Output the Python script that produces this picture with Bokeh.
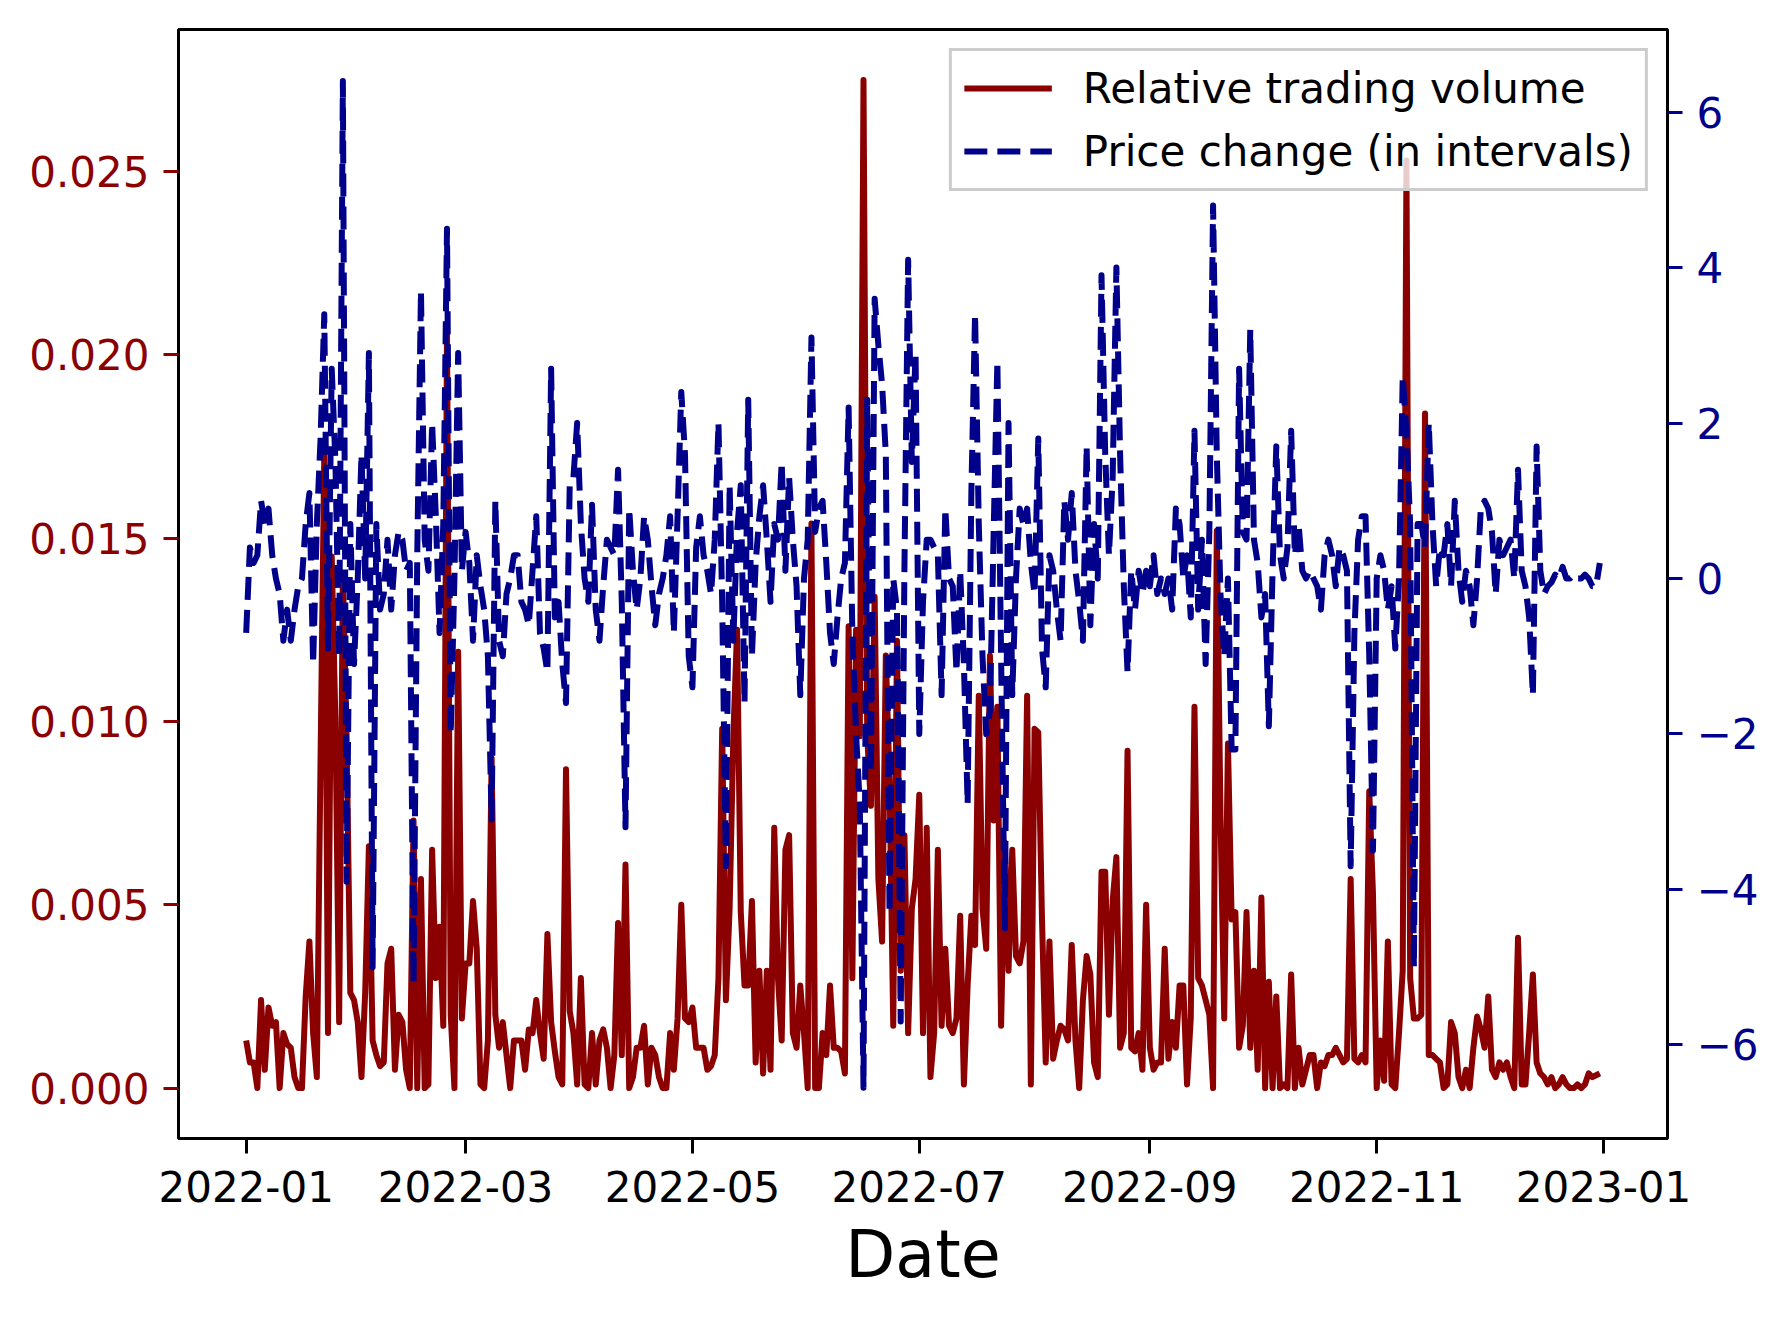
import pandas as pd
from bokeh.plotting import figure
from bokeh.models import (Range1d, LinearAxis, FixedTicker, DatetimeTickFormatter, Legend,
                          LegendItem, ColumnDataSource, CustomJSTickFormatter)
from bokeh.embed import file_html
from bokeh.resources import INLINE

# ---------------- data ----------------
dates = pd.date_range("2022-01-01", "2022-12-31", freq="D")

relative_volume = [
    0.0013, 0.0007, 0.0007, 0.0, 0.0024, 0.0005, 0.0022, 0.0017, 0.0018, 0.0,
    0.0015, 0.0012, 0.0011, 0.0003, 0.0, 0.0, 0.0025, 0.0040, 0.0015, 0.0003,
    0.0090, 0.0173, 0.0015, 0.0145, 0.0100, 0.0018, 0.0140, 0.0096, 0.0026, 0.0024,
    0.0018, 0.0003, 0.0026, 0.0066, 0.0013, 0.0009, 0.0006, 0.0007, 0.0034, 0.0038,
    0.0005, 0.0020, 0.0018, 0.0005, 0.0, 0.0073, 0.0, 0.0057, 0.0, 0.0001,
    0.0065, 0.0030, 0.0044, 0.0017, 0.0207, 0.0020, 0.0, 0.0119, 0.0019, 0.0034,
    0.0034, 0.0051, 0.0038, 0.0001, 0.0, 0.0013, 0.0090, 0.0020, 0.0011, 0.0018,
    0.0009, 0.0, 0.0013, 0.0013, 0.0013, 0.0005, 0.0016, 0.0015, 0.0024, 0.0015,
    0.0008, 0.0042, 0.0018, 0.0010, 0.0003, 0.0001, 0.0087, 0.0021, 0.0015, 0.0001,
    0.0030, 0.0001, 0.0, 0.0015, 0.0001, 0.0013, 0.0016, 0.0011, 0.0, 0.0009,
    0.0045, 0.0009, 0.0061, 0.0, 0.0003, 0.0011, 0.0011, 0.0017, 0.0001, 0.0011,
    0.0009, 0.0003, 0.0, 0.0, 0.0015, 0.0005, 0.0019, 0.0050, 0.0019, 0.0018,
    0.0022, 0.0011, 0.0011, 0.0011, 0.0005, 0.0006, 0.0009, 0.0030, 0.0098, 0.0024,
    0.0049, 0.0096, 0.0125, 0.0048, 0.0028, 0.0028, 0.0051, 0.0007, 0.0032, 0.0004,
    0.0032, 0.0005, 0.0071, 0.0030, 0.0013, 0.0065, 0.0069, 0.0015, 0.0011, 0.0028,
    0.0015, 0.0, 0.0154, 0.0, 0.0, 0.0015, 0.0009, 0.0028, 0.0011, 0.0011,
    0.0010, 0.0004, 0.0126, 0.0030, 0.0125, 0.0096, 0.0275, 0.0096, 0.0077, 0.0134,
    0.0057, 0.0040, 0.0118, 0.0084, 0.0017, 0.0122, 0.0032, 0.0069, 0.0015, 0.0049,
    0.0057, 0.0080, 0.0015, 0.0071, 0.0003, 0.0015, 0.0065, 0.0017, 0.0038, 0.0017,
    0.0015, 0.0019, 0.0047, 0.0001, 0.0028, 0.0047, 0.0039, 0.0107, 0.0049, 0.0038,
    0.0118, 0.0073, 0.0104, 0.0017, 0.0067, 0.0032, 0.0065, 0.0036, 0.0034, 0.0040,
    0.0107, 0.0001, 0.0098, 0.0097, 0.0046, 0.0007, 0.0040, 0.0008, 0.0013, 0.0017,
    0.0016, 0.0013, 0.0039, 0.0013, 0.0, 0.0024, 0.0036, 0.0031, 0.0007, 0.0003,
    0.0059, 0.0059, 0.0020, 0.0051, 0.0063, 0.0011, 0.0015, 0.0092, 0.0011, 0.0010,
    0.0015, 0.0005, 0.0050, 0.0011, 0.0005, 0.0007, 0.0007, 0.0038, 0.0008, 0.0018,
    0.0011, 0.0028, 0.0028, 0.0001, 0.0019, 0.0104, 0.0030, 0.0028, 0.0024, 0.0020,
    0.0, 0.0152, 0.0074, 0.0019, 0.0094, 0.0046, 0.0048, 0.0011, 0.0017, 0.0048,
    0.0011, 0.0032, 0.0005, 0.0052, 0.0, 0.0029, 0.0, 0.0025, 0.0, 0.0001,
    0.0, 0.0031, 0.0, 0.0011, 0.0001, 0.0005, 0.0009, 0.0009, 0.0, 0.0007,
    0.0006, 0.0009, 0.0009, 0.0011, 0.0009, 0.0007, 0.0008, 0.0057, 0.0008, 0.0007,
    0.0009, 0.0007, 0.0081, 0.0053, 0.0, 0.0013, 0.0002, 0.0040, 0.0001, 0.0,
    0.0015, 0.0032, 0.0253, 0.0030, 0.0019, 0.0019, 0.0020, 0.0184, 0.0009, 0.0009,
    0.0008, 0.0007, 0.0, 0.0001, 0.0018, 0.0015, 0.0003, 0.0, 0.0005, 0.0,
    0.0011, 0.00195, 0.0016, 0.0011, 0.0025, 0.0005, 0.0003, 0.0007, 0.0005, 0.0007,
    0.0003, 0.0, 0.0041, 0.0001, 0.0001, 0.0015, 0.0031, 0.0007, 0.0004, 0.0003,
    0.0001, 0.0003, 0.0, 0.0001, 0.0003, 0.0001, 0.0, 0.0, 0.0001, 0.0,
    0.0001, 0.0004, 0.0003, 0.00035, 0.0004,
]

price_change = [
    -0.7, 0.4, 0.2, 0.3, 1.0, 0.7, 0.9, 0.3, 0.0, -0.2,
    -0.8, -0.4, -0.8, -0.4, -0.1, 0.0, 0.7, 1.1, -1.1, 0.7,
    1.8, 3.4, -0.9, 2.7, 1.5, -1.0, 6.4, -3.9, 0.7, -1.1,
    0.0, 1.6, 0.0, 2.9, -5.0, 0.7, -0.4, -0.2, 0.5, -0.4,
    0.3, 0.6, 0.5, 0.1, 0.2, -5.2, 0.3, 3.7, 0.5, 0.1,
    2.0, 0.8, -0.7, 0.7, 4.5, -2.0, 0.0, 2.9, 0.1, 0.6,
    0.2, -0.8, 0.3, -0.1, -0.4, -1.0, -3.1, 1.0, -0.8, -1.0,
    -0.2, 0.0, 0.3, 0.3, -0.3, -0.4, -0.6, 0.1, 0.8, -0.7,
    -0.9, -1.2, 2.7, -0.5, -0.3, -1.1, -1.6, 1.2, 1.3, 2.0,
    0.7, 0.0, -0.3, 0.95, -0.4, -0.8, -0.1, 0.5, 0.4, 0.3,
    1.4, -0.3, -3.2, 0.9, 0.1, -0.4, 0.0, 0.8, 0.5, -0.1,
    -0.6, -0.2, 0.0, 0.3, 0.8, -0.7, 0.8, 2.4, 1.6, -1.0,
    -1.4, 0.4, 0.8, 0.3, 0.1, -0.2, 0.5, 2.0, -0.3, -3.7,
    1.2, -0.8, 0.6, 1.2, -1.6, 2.3, -1.0, 0.2, 0.8, 1.2,
    0.5, -0.3, 0.7, 0.5, 1.5, 0.1, 1.3, 0.5, -0.1, -1.5,
    0.0, 0.5, 3.1, 0.6, 0.9, 1.0, 0.2, -0.7, -1.1, -0.5,
    0.0, 0.2, 2.2, -0.7, -2.0, -2.9, -6.55, 2.3, -2.5, 3.6,
    3.0, 2.5, 1.6, -4.3, 0.0, -0.4, -5.7, 0.1, 4.1, 1.5,
    2.9, -2.0, -0.3, 0.5, 0.5, 0.4, 0.3, -1.5, 0.9, 0.0,
    -0.1, -1.2, 0.1, -1.1, -2.9, 1.1, 3.4, 0.7, -1.0, -2.0,
    -1.7, 0.6, 2.8, -1.0, -4.5, 2.0, -1.5, 0.0, 0.9, 0.7,
    0.9, 0.2, -0.2, 1.8, -0.9, -1.4, 0.3, 0.1, -0.4, -0.8,
    1.0, 0.5, 1.1, 0.1, -0.3, -0.8, 1.7, -0.6, 0.7, 0.0,
    3.9, 1.6, 0.3, 1.3, 4.0, 1.6, -0.1, -1.2, 0.1, -0.4,
    0.1, -0.2, 0.1, -0.1, 0.3, -0.2, 0.0, -0.2, 0.0, -0.4,
    0.9, 0.7, 0.0, 0.3, -0.5, 1.9, -0.4, 0.5, -1.1, 0.6,
    4.8, 1.6, -0.2, -1.0, 0.0, -2.2, -2.2, 2.7, 0.6, 0.5,
    3.2, 0.5, 0.2, -0.5, -0.2, -1.9, 0.1, 1.7, 0.3, 0.0,
    0.4, 1.9, 0.3, 0.7, 0.1, 0.0, 0.1, 0.0, -0.1, -0.4,
    0.3, 0.5, 0.3, -0.1, 0.4, 0.3, 0.1, -3.7, -0.7, 0.5,
    0.8, 0.8, -1.0, -3.5, 0.0, 0.3, 0.1, -0.4, -0.1, -0.9,
    0.0, 2.6, 1.9, 0.7, -5.0, 0.7, 0.7, 0.4, 2.0, 0.7,
    -0.1, 0.4, 0.3, 0.7, -0.1, 1.0, 0.1, -0.3, 0.1, -0.1,
    -0.6, 0.0, 0.9, 1.0, 0.9, 0.6, -0.2, 0.5, 0.3, 0.4,
    0.5, 0.0, 1.4, 0.1, -0.1, -0.5, -1.5, 1.7, 0.1, -0.2,
    -0.1, -0.05, 0.05, 0.0, 0.15, 0.0, 0.0, 0.05, 0.0, 0.0,
    0.05, 0.0, -0.1, -0.1, 0.2,
]

x_tick_dates = ["2022-01-01", "2022-03-01", "2022-05-01", "2022-07-01",
                "2022-09-01", "2022-11-01", "2023-01-01"]
left_ticks = [0.0, 0.005, 0.010, 0.015, 0.020, 0.025]
right_ticks = [-6, -4, -2, 0, 2, 4, 6]

# ---------------- styling ----------------
RED = "#8b0000"
BLUE = "#00008b"
FONT = "DejaVu Sans"
TICK_FS = "42px"

W, H = 1770, 1306
t0 = pd.Timestamp("2022-01-01")
x_start = (t0 - pd.Timedelta(hours=18.2 * 24)).to_pydatetime()
x_end = (t0 + pd.Timedelta(hours=382.2 * 24)).to_pydatetime()

p = figure(width=W, height=H, x_axis_type="datetime", output_backend="svg",
           toolbar_location=None,
           x_range=Range1d(x_start, x_end), y_range=Range1d(-0.001375, 0.028875),
           min_border_left=178, min_border_right=103, min_border_top=29,
           min_border_bottom=168)
p.extra_y_ranges = {"chg": Range1d(-7.204, 7.063)}

p.background_fill_color = "white"
p.border_fill_color = "white"
p.outline_line_color = "black"
p.outline_line_width = 3
p.xgrid.visible = False
p.ygrid.visible = False

src = ColumnDataSource(dict(date=dates, vol=relative_volume, chg=price_change))
r_vol = p.line("date", "vol", source=src, line_color=RED, line_width=6,
               line_join="round")
r_chg = p.line("date", "chg", source=src, y_range_name="chg", line_color=BLUE,
               line_width=6, line_dash="23 10", line_join="round")

# x axis
xa = p.xaxis[0]
xa.ticker = FixedTicker(ticks=[pd.Timestamp(d).value / 1e6 for d in x_tick_dates])
xa.formatter = DatetimeTickFormatter(days="%Y-%m", months="%Y-%m", years="%Y-%m")
xa.axis_label = "Date"
xa.axis_label_text_font = FONT
xa.axis_label_text_font_size = "65px"
xa.axis_label_text_font_style = "normal"
xa.axis_label_text_color = "black"
xa.axis_label_standoff = 12
xa.major_label_standoff = 17
xa.major_label_text_color = "black"
xa.major_tick_line_color = "black"

# left axis
ya = p.yaxis[0]
ya.ticker = FixedTicker(ticks=left_ticks)
ya.formatter = CustomJSTickFormatter(code="return tick.toFixed(3);")
ya.major_label_text_color = RED
ya.major_tick_line_color = RED
ya.major_label_standoff = 14

# right axis
ra = LinearAxis(y_range_name="chg")
ra.ticker = FixedTicker(ticks=right_ticks)
ra.formatter = CustomJSTickFormatter(
    code="return tick < 0 ? '\\u2212' + Math.abs(tick).toFixed(0) : tick.toFixed(0);")
ra.major_label_text_color = BLUE
ra.major_tick_line_color = BLUE
ra.major_label_standoff = 14
p.add_layout(ra, "right")

for ax in (xa, ya, ra):
    ax.axis_line_color = None
    ax.major_tick_line_width = 3
    ax.major_tick_out = 15
    ax.major_tick_in = 0
    ax.minor_tick_line_color = None
    ax.major_label_text_font = FONT
    ax.major_label_text_font_size = TICK_FS

legend = Legend(items=[LegendItem(label="Relative trading volume", renderers=[r_vol]),
                       LegendItem(label="Price change (in intervals)", renderers=[r_chg])],
                location="top_right", label_text_font=FONT, label_text_font_size=TICK_FS,
                label_text_color="black",
                glyph_width=88, glyph_height=50, label_height=50, label_standoff=31,
                padding=12, spacing=13, margin=19,
                border_line_color="#cccccc", border_line_width=3, border_line_alpha=1.0,
                background_fill_color="white", background_fill_alpha=0.8)
p.add_layout(legend)

open("out.html", "w").write(file_html(p, INLINE))
